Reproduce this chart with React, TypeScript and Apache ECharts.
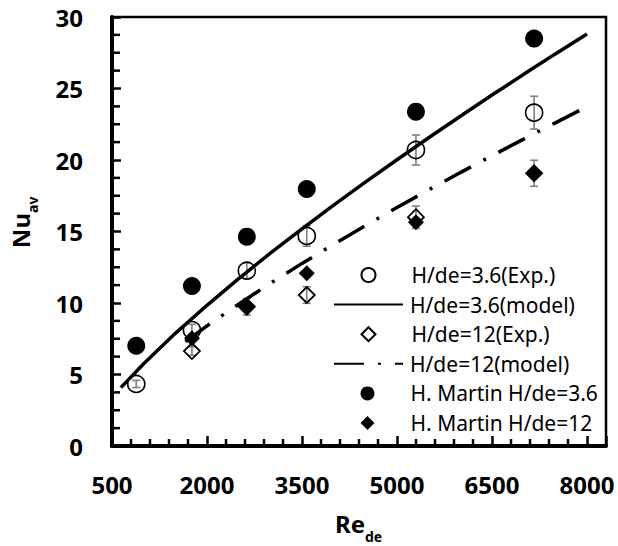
import React, { useEffect, useRef } from "react";
import * as echarts from "echarts";

// ---- data ----
const reExp36 = [883, 1762, 2629, 3575, 5299, 7165];
const nuExp36 = [4.34, 8.11, 12.26, 14.69, 20.7, 23.31];
const errExp36 = [0.25, 0.4, 0.55, 0.72, 1.05, 1.15];

const reExp12 = [1762, 2629, 3575, 5299, 7165];
const nuExp12 = [6.64, 9.74, 10.56, 16.0, 19.07];
const errExp12 = [0.3, 0.58, 0.58, 0.78, 0.91];

const reMartin36 = [883, 1762, 2629, 3575, 5299, 7165];
const nuMartin36 = [7.01, 11.19, 14.64, 17.97, 23.38, 28.5];

const reMartin12 = [1762, 2629, 3575, 5299, 7165];
const nuMartin12 = [7.53, 9.74, 12.08, 15.65, 19.07];

const reModel36 = [640, 1000, 1500, 2000, 2500, 3000, 3500, 4000, 4500, 5000, 5500, 6000, 6500, 7000, 7500, 8000];
const nuModel36 = [4.08, 5.75, 7.88, 9.84, 11.7, 13.48, 15.19, 16.84, 18.45, 20.02, 21.56, 23.06, 24.54, 25.99, 27.42, 28.81];

const reModel12 = [1660, 2000, 2500, 3000, 3500, 4000, 4500, 5000, 5500, 6000, 6500, 7000, 7500, 8000];
const nuModel12 = [7.3, 8.4, 9.92, 11.38, 12.77, 14.11, 15.41, 16.68, 17.91, 19.12, 20.3, 21.46, 22.6, 23.73];

// ---- axes ----
const X_MIN = 500;
const X_MAX = 8300;
const X_STEP = 1500;
const X_MINOR_STEP = 300;
const X_LAST_LABEL = 8000;
const Y_MIN = 0;
const Y_MAX = 30;
const Y_STEP = 5;
const Y_MINOR_STEP = 1.25;

const seriesNames = [
  "H/de=3.6(Exp.)",
  "H/de=3.6(model)",
  "H/de=12(Exp.)",
  "H/de=12(model)",
  "H. Martin H/de=3.6",
  "H. Martin H/de=12",
];
const isLineSeries = [false, true, false, true, false, false];

const FONT = '"Noto Sans", "DejaVu Sans", sans-serif';
const GRID = { left: 112, right: 12, top: 17, bottom: 100 };

const zip = (xs: number[], ys: number[]) => xs.map((x, i) => [x, ys[i]]);
const errData = (xs: number[], ys: number[], es: number[]) =>
  xs.map((x, i) => [x, ys[i] - es[i], ys[i] + es[i]]);

const range = (a: number, b: number, step: number) => {
  const out: number[] = [];
  for (let v = a; v <= b + 1e-9; v += step) out.push(Math.round(v * 1000) / 1000);
  return out;
};

const errorBarSeries = (data: number[][]) => ({
  type: "custom",
  xAxisIndex: 0,
  yAxisIndex: 0,
  silent: true,
  data,
  renderItem: (_params: any, api: any) => {
    const x = api.value(0);
    const lo = api.coord([x, api.value(1)]);
    const hi = api.coord([x, api.value(2)]);
    const cap = 4;
    const mk = () => ({ stroke: "#7f7f7f", lineWidth: 1.6, fill: null });
    return {
      type: "group",
      children: [
        { type: "line", shape: { x1: lo[0], y1: lo[1], x2: hi[0], y2: hi[1] }, style: mk() },
        { type: "line", shape: { x1: lo[0] - cap, y1: lo[1], x2: lo[0] + cap, y2: lo[1] }, style: mk() },
        { type: "line", shape: { x1: hi[0] - cap, y1: hi[1], x2: hi[0] + cap, y2: hi[1] }, style: mk() },
      ],
    };
  },
});

// minor tick marks (inside), placed through the axes' own coordinate mapping
// kind: 1 = x minor, 3 = y minor
const minorTickData: number[][] = [
  ...range(X_MIN, X_LAST_LABEL, X_MINOR_STEP)
    .filter((v) => (v - X_MIN) % X_STEP !== 0)
    .map((v) => [v, Y_MIN, 1]),
  ...range(Y_MIN, Y_MAX, Y_MINOR_STEP)
    .filter((v) => v % Y_STEP !== 0)
    .map((v) => [X_MIN, v, 3]),
];

export default function App() {
  const ref = useRef<HTMLDivElement>(null);
  const frameRef = useRef<HTMLDivElement>(null);

  useEffect(() => {
    if (!ref.current || !frameRef.current) return;
    const chart = echarts.init(ref.current, undefined, { renderer: "svg" });
    const frame = echarts.init(frameRef.current, undefined, { renderer: "svg" });

    const labelStyle = {
      color: "#000",
      fontFamily: FONT,
      fontWeight: "bold",
      fontSize: 24,
    };

    const rowTop0 = 263;
    const rowStep = 29.6;
    const legends = seriesNames.map((name, i) => {
      const line = isLineSeries[i];
      return {
        orient: "vertical",
        left: line ? 333 : 360.5,
        top: rowTop0 + i * rowStep,
        padding: 0,
        itemWidth: line ? 69 : 14,
        itemHeight: 14,
        data: [name],
        selectedMode: false,
        textStyle: {
          color: "#000",
          fontFamily: FONT,
          fontSize: 21,
          lineHeight: 24,
          padding: [0, 0, 0, line ? 2 : 31],
        },
      };
    });

    // main chart: data, labels, legend, titles
    const option: any = {
      animation: false,
      grid: { ...GRID, show: false },
      xAxis: {
        type: "value",
        min: X_MIN,
        max: X_MAX,
        interval: X_STEP,
        axisLine: { show: false },
        axisTick: { show: false },
        axisLabel: {
          ...labelStyle,
          margin: 26,
          formatter: (v: number) => (v > X_LAST_LABEL ? "" : String(v)),
        },
        splitLine: { show: false },
      },
      yAxis: {
        type: "value",
        min: Y_MIN,
        max: Y_MAX,
        interval: Y_STEP,
        axisLine: { show: false },
        axisTick: { show: false },
        axisLabel: { ...labelStyle, margin: 29 },
        splitLine: { show: false },
      },
      legend: legends,
      graphic: [
        {
          type: "text",
          x: 365,
          y: 523,
          style: { text: "Re", fill: "#000", font: `bold 24px ${FONT}`, align: "right", verticalAlign: "middle" },
        },
        {
          type: "text",
          x: 365,
          y: 536,
          style: { text: "de", fill: "#000", font: `bold 14px ${FONT}`, align: "left", verticalAlign: "middle" },
        },
        {
          type: "text",
          x: 20,
          y: 213,
          rotation: Math.PI / 2,
          style: { text: "Nu", fill: "#000", font: `bold 24px ${FONT}`, align: "right", verticalAlign: "middle" },
        },
        {
          type: "text",
          x: 32,
          y: 213,
          rotation: Math.PI / 2,
          style: { text: "av", fill: "#000", font: `bold 14px ${FONT}`, align: "left", verticalAlign: "middle" },
        },
      ],
      series: [
        errorBarSeries(errData(reExp36, nuExp36, errExp36)),
        {
          name: seriesNames[0],
          type: "scatter",
          data: zip(reExp36, nuExp36),
          symbol: "circle",
          symbolSize: 17,
          itemStyle: { color: "rgba(255,255,255,0)", borderColor: "#000", borderWidth: 1.6, opacity: 1 },
        },
        {
          name: seriesNames[1],
          type: "line",
          data: zip(reModel36, nuModel36),
          symbol: "none",
          showSymbol: false,
          itemStyle: { color: "rgba(0,0,0,0)" },
          lineStyle: { color: "#000", width: 3.5, type: "solid", cap: "butt" },
        },
        errorBarSeries(errData(reExp12, nuExp12, errExp12)),
        {
          name: seriesNames[2],
          type: "scatter",
          data: zip(reExp12, nuExp12),
          symbol: "diamond",
          symbolSize: 16,
          itemStyle: { color: "rgba(255,255,255,0)", borderColor: "#000", borderWidth: 1.8, opacity: 1 },
        },
        {
          name: seriesNames[3],
          type: "line",
          data: zip(reModel12, nuModel12),
          symbol: "none",
          showSymbol: false,
          itemStyle: { color: "rgba(0,0,0,0)" },
          lineStyle: { color: "#000", width: 3.5, type: [30, 14, 3, 14], cap: "butt" },
        },
        {
          name: seriesNames[4],
          type: "scatter",
          data: zip(reMartin36, nuMartin36),
          symbol: "circle",
          symbolSize: 18,
          itemStyle: { color: "#000", opacity: 1 },
        },
        {
          name: seriesNames[5],
          type: "scatter",
          data: zip(reMartin12, nuMartin12),
          symbol: "diamond",
          symbolSize: 16,
          itemStyle: { color: "#000", opacity: 1 },
        },
      ],
    };
    chart.setOption(option);

    // overlay chart: same grid and axes, draws the frame, axis lines and ticks
    const frameOption: any = {
      animation: false,
      backgroundColor: "transparent",
      grid: { ...GRID, show: true, borderColor: "#000", borderWidth: 2.5, backgroundColor: "transparent" },
      xAxis: {
        type: "value",
        min: X_MIN,
        max: X_MAX,
        interval: X_STEP,
        axisLabel: { show: false },
        splitLine: { show: false },
        axisLine: { show: true, lineStyle: { color: "#000", width: 4 } },
        axisTick: { show: true, inside: true, length: 10, lineStyle: { color: "#000", width: 2.5 } },
      },
      yAxis: {
        type: "value",
        min: Y_MIN,
        max: Y_MAX,
        interval: Y_STEP,
        axisLabel: { show: false },
        splitLine: { show: false },
        axisLine: { show: true, lineStyle: { color: "#000", width: 4 } },
        axisTick: { show: true, inside: true, length: 9, lineStyle: { color: "#000", width: 2.5 } },
      },
      series: [
        {
          type: "custom",
          data: minorTickData,
          renderItem: (_p: any, api: any) => {
            const kind = api.value(2);
            const p = api.coord([api.value(0), api.value(1)]);
            if (kind === 1) {
              return { type: "line", shape: { x1: p[0], y1: p[1], x2: p[0], y2: p[1] - 7 }, style: { stroke: "#000", lineWidth: 2.5, fill: null } };
            }
            return { type: "line", shape: { x1: p[0], y1: p[1], x2: p[0] + 8, y2: p[1] }, style: { stroke: "#000", lineWidth: 2.5, fill: null } };
          },
        },
      ],
    };
    frame.setOption(frameOption);

    return () => {
      chart.dispose();
      frame.dispose();
    };
  }, []);

  return (
    <div>
      <div
        ref={ref}
        style={{ position: "fixed", left: 0, top: 0, width: 618, height: 546, background: "#fff" }}
      />
      <div
        ref={frameRef}
        style={{ position: "fixed", left: 0, top: 0, width: 618, height: 546, pointerEvents: "none" }}
      />
    </div>
  );
}
